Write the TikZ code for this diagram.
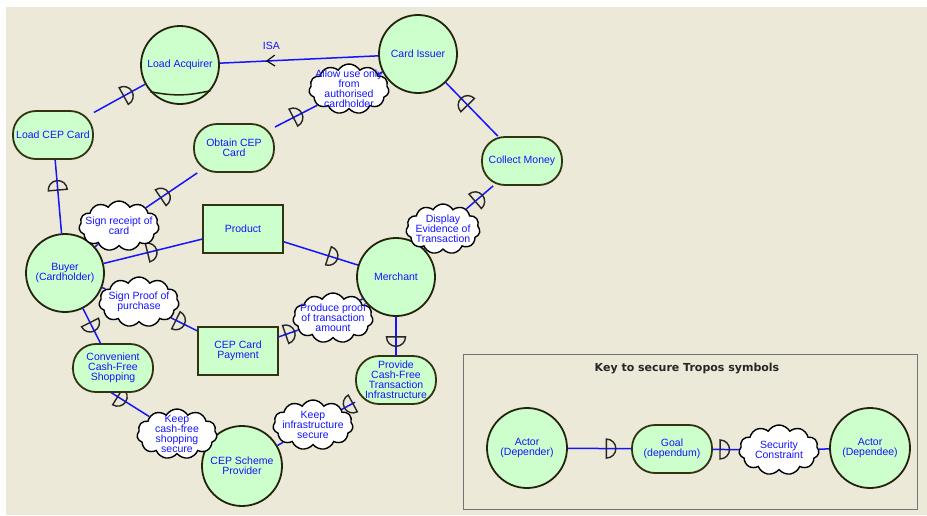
\documentclass[tikz,border=0pt]{standalone}
\usepackage{fontspec}
\setmainfont{Liberation Sans}
\newfontfamily\keyfont{DejaVu Sans}
\usetikzlibrary{positioning,shapes.geometric,shapes.symbols}
\definecolor{panel}{HTML}{ECE9D8}
\definecolor{leaf}{HTML}{CCFFCC}
\definecolor{rim}{HTML}{333311}
\definecolor{ink}{HTML}{1414FF}
\newcommand\dfont{\fontsize{10.5}{10}\selectfont}
\pgfdeclarelayer{bg}
\pgfsetlayers{bg,main}
\tikzset{actor/.style={circle,fill=leaf,draw=rim!70!black,line width=1.8pt,minimum size=78pt,inner sep=0pt,align=center,text=ink,font=\dfont},
  goalbox/.style={rectangle,rounded corners=23pt,fill=leaf,draw=rim,line width=1.8pt,minimum width=80pt,minimum height=48pt,inner sep=0pt,align=center,text=ink,font=\dfont},
  resbox/.style={rectangle,fill=leaf,draw=rim,line width=1.8pt,minimum width=80pt,minimum height=48pt,inner sep=0pt,align=center,text=ink,font=\dfont},
  cstr/.style={cloud,cloud puffs=11,cloud puff arc=120,cloud ignores aspect,fill=white,draw=black,line width=1.4pt,minimum width=80pt,minimum height=50pt,inner sep=0pt},
  ctext/.style={align=center,text=ink,font=\dfont,inner sep=0pt},
  dep/.style={draw=ink,line width=1.5pt},
  dmark/.pic={\draw[black!85,line width=1.4pt] (-4.5pt,-9.5pt) arc[start angle=-90,end angle=90,radius=9.5pt] -- cycle;},
  isamark/.pic={\draw[black,line width=1.1pt] (-6pt,5.5pt) .. controls (-2pt,2pt) .. (2pt,0pt) .. controls (-2pt,-2pt) .. (-6pt,-5.5pt);}}

\begin{document}
\begin{tikzpicture}[x=1pt,y=-1pt]
  \useasboundingbox (0,0) rectangle (927,515);

  % actors
  \node[actor] (loadacq) at (180,65) {Load Acquirer};
  \draw[rim!70!black,line width=1.5pt] (loadacq.222) to[bend right=12] (loadacq.-40);
  \node[actor] (issuer) at (418,54) {Card Issuer};
  \node[actor] (buyer) at (65,273) {Buyer\\(Cardholder)};
  \node[actor] (merchant) at (396,277) {Merchant};
  \node[actor,minimum size=80pt] (scheme) at (242,466) {CEP Scheme\\Provider};

  % goals and resources
  \node[goalbox] (loadcep) at (53,135) {Load CEP Card};
  \node[goalbox] (obtain) at (234,148) {Obtain CEP\\Card};
  \node[goalbox] (collect) at (522,161) {Collect Money};
  \node[goalbox] (provide) at (396,380) {Provide\\Cash-Free\\Transaction\\Infrastructure};
  \node[goalbox] (convenient) at (113,368) {Convenient\\Cash-Free\\Shopping};
  \node[resbox] (product) at (243,229) {Product};
  \node[resbox] (payment) at (238,351) {CEP Card\\Payment};

  % security constraints
  \node[cstr,label={[ctext]center:Allow use only\\from\\authorised\\cardholder}] (allow) at (349,89) {};
  \node[cstr,label={[ctext]center:Sign receipt of\\card}] (receipt) at (119,226) {};
  \node[cstr,label={[ctext]center:Sign Proof of\\purchase}] (proof) at (139,302) {};
  \node[cstr,minimum width=74pt,label={[ctext]center:Display\\Evidence of\\Transaction}] (display) at (443,229) {};
  \node[cstr,label={[ctext]center:Produce proof\\of transaction\\amount}] (produce) at (333,318) {};
  \node[cstr,label={[ctext]center:Keep\\cash-free\\shopping\\secure}] (keepshop) at (177,434) {};
  \node[cstr,label={[ctext]center:Keep\\infrastructure\\secure}] (keepinfra) at (313,425) {};

  % key
  \draw[black!55,line width=0.8pt] (463,354) rectangle (917,509);
  \node[font=\keyfont\bfseries\fontsize{11}{12}\selectfont,text=black!85] (keytitle) at (687,369) {Key to secure Tropos symbols};
  \node[actor,minimum size=80pt] (depender) at (527,448) {Actor\\(Depender)};
  \node[goalbox] (goal) at (672,449) {Goal\\(dependum)};
  \node[cstr,label={[ctext]center:Security\\Constraint}] (secc) at (779,450) {};
  \node[actor,minimum size=80pt] (dependee) at (870,448) {Actor\\(Dependee)};

  \begin{pgfonlayer}{bg}
    \fill[white] (0,0) rectangle (927,515);
    \fill[panel] (6,7) rectangle (927,515);
    \draw[dep] (issuer) -- (loadacq)
      pic[pos=0.69,sloped,allow upside down]{isamark}
      node[pos=0.675,above=7pt,text=ink,font=\dfont] (isa) {ISA};
    \draw[dep] (buyer) -- (loadcep) pic[pos=0.65,sloped,allow upside down]{dmark};
    \draw[dep] (loadcep) -- (loadacq) pic[pos=0.66,sloped,allow upside down]{dmark};
    \draw[dep] (buyer) -- (receipt);
    \draw[dep] (receipt) -- (obtain) pic[pos=0.36,sloped,allow upside down]{dmark};
    \draw[dep] (obtain) -- (allow) pic[pos=0.53,sloped,allow upside down]{dmark};
    \draw[dep] (allow) -- (issuer);
    \draw[dep] (buyer) -- (product) pic[pos=0.49,sloped,allow upside down]{dmark};
    \draw[dep] (product) -- (merchant) pic[pos=0.66,sloped,allow upside down]{dmark};
    \draw[dep] (merchant) -- (display);
    \draw[dep] (display) -- (collect) pic[pos=0.46,sloped,allow upside down]{dmark};
    \draw[dep] (collect) -- (issuer) pic[pos=0.64,sloped,allow upside down]{dmark};
    \draw[dep] (buyer) -- (proof);
    \draw[dep] (proof) -- (payment) pic[pos=0.34,sloped,allow upside down]{dmark};
    \draw[dep] (payment) -- (produce) pic[pos=0.57,sloped,allow upside down]{dmark};
    \draw[dep] (produce) -- (merchant);
    \draw[dep] (merchant) -- (provide) pic[pos=0.64,sloped,allow upside down]{dmark};
    \draw[dep] (provide) -- (keepinfra) pic[pos=0.47,sloped,allow upside down]{dmark};
    \draw[dep] (keepinfra) -- (scheme);
    \draw[dep] (buyer) -- (convenient) pic[pos=0.52,sloped,allow upside down]{dmark};
    \draw[dep] (convenient.west) -- (keepshop) pic[pos=0.64,sloped,allow upside down]{dmark};
    \draw[dep] (keepshop) -- (scheme);
    % key connectors
    \draw[dep] (depender) -- (goal) pic[pos=0.68,sloped,allow upside down]{dmark};
    \draw[dep] (goal) -- (secc) pic[pos=0.45,sloped,allow upside down]{dmark};
    \draw[dep] (secc) -- (dependee);
  \end{pgfonlayer}
\end{tikzpicture}
\end{document}
